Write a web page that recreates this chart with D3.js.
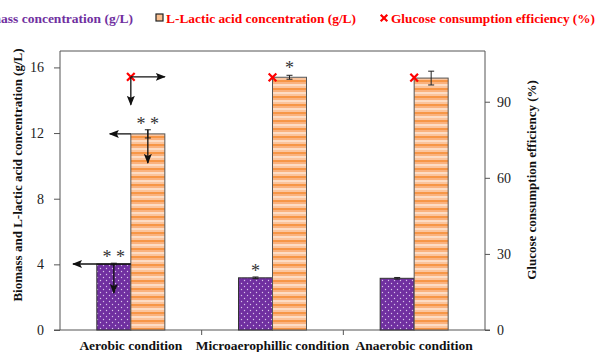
<!DOCTYPE html>
<html>
<head>
    <meta charset="utf-8">
    <style>
        body { margin: 0; background: white; }
        svg { display: block; }
        text { font-family: "Liberation Serif", "Times New Roman", serif; }
        .tick text { font-size: 14px; fill: #222; font-family: "Liberation Serif", serif; }
        .axis path, .axis line { stroke: #555; }
    </style>
    <script src="https://d3js.org/d3.v7.min.js"></script>
</head>
<body>
<script>
const categories = ["Aerobic condition", "Microaerophillic condition", "Anaerobic condition"];
const biomass = [4.02, 3.18, 3.15];
const biomassErr = [0.05, 0.05, 0.05];
const lactic = [11.95, 15.4, 15.35];
const lacticErr = [0.25, 0.12, 0.42];
const glucose = [99.8, 99.6, 99.5];
const leftTicks = [0, 4, 8, 12, 16];
const rightTicks = [0, 30, 60, 90];
const stars = ["* *", "*", ""];        // above biomass bars
const lacticStars = ["* *", "*", ""];  // above lactic bars

const width = 599, height = 352;
const m = {left: 60, right: 485, top: 51, bottom: 330};

const svg = d3.select("body").append("svg")
    .attr("width", width).attr("height", height);

const defs = svg.append("defs");

// purple with white dots
const dots = defs.append("pattern").attr("id", "dots")
    .attr("patternUnits", "userSpaceOnUse").attr("width", 6).attr("height", 6);
dots.append("rect").attr("width", 6).attr("height", 6).attr("fill", "#7030A0");
dots.append("circle").attr("cx", 1.5).attr("cy", 1.5).attr("r", 0.7).attr("fill", "#d9c3ea");
dots.append("circle").attr("cx", 4.5).attr("cy", 4.5).attr("r", 0.7).attr("fill", "#d9c3ea");

// orange horizontal stripes
const stripes = defs.append("pattern").attr("id", "stripes")
    .attr("patternUnits", "userSpaceOnUse").attr("width", 10).attr("height", 8);
[["#F79646", 0, 2], ["#FAB27E", 2, 2], ["#FDDCC4", 4, 2], ["#FBC49C", 6, 2]].forEach(s => {
    stripes.append("rect").attr("y", s[1]).attr("width", 10).attr("height", s[2]).attr("fill", s[0]);
});

defs.append("marker").attr("id", "arrow")
    .attr("viewBox", "0 0 10 10").attr("refX", 9).attr("refY", 5)
    .attr("markerWidth", 10).attr("markerHeight", 10).attr("markerUnits", "userSpaceOnUse")
    .attr("orient", "auto")
    .append("path").attr("d", "M0,1 L10,5 L0,9 L2,5 Z").attr("fill", "#111");

const x = d3.scaleBand().domain(categories).range([m.left, m.right]).padding(0);
const yL = d3.scaleLinear().domain([0, 17]).range([m.bottom, m.top]);
const yR = d3.scaleLinear().domain([0, 110]).range([m.bottom, m.top]);
const barW = 34;
const cx = d => x(d) + x.bandwidth() / 2;

// frame
svg.append("line").attr("x1", m.left).attr("x2", m.right).attr("y1", m.top).attr("y2", m.top)
    .attr("stroke", "#555");

// axes
const gl = svg.append("g").attr("class", "axis").attr("transform", `translate(${m.left},0)`)
    .call(d3.axisLeft(yL).tickValues(leftTicks).tickSize(6).tickSizeOuter(0));
gl.select(".domain").attr("d", `M0,${m.bottom}V${m.top}`);
gl.selectAll(".tick text").attr("x", -16);

const gr = svg.append("g").attr("class", "axis").attr("transform", `translate(${m.right},0)`)
    .call(d3.axisRight(yR).tickValues(rightTicks).tickSize(5).tickSizeOuter(0));
gr.select(".domain").attr("d", `M0,${m.bottom}V${m.top}`);
gr.selectAll(".tick text").attr("x", 12);

const gb = svg.append("g").attr("class", "axis").attr("transform", `translate(0,${m.bottom})`);
gb.append("line").attr("x1", m.left - 6).attr("x2", m.right + 5).attr("stroke", "#555");
gb.selectAll(".ct").data(categories.slice(1)).join("line")
    .attr("x1", d => x(d)).attr("x2", d => x(d)).attr("y1", 0).attr("y2", 5).attr("stroke", "#555");
gb.selectAll("text").data(categories).join("text")
    .attr("x", d => cx(d)).attr("y", 20).attr("text-anchor", "middle")
    .attr("font-size", 13.5).attr("font-weight", "bold").attr("fill", "#111").text(d => d);

// bars
svg.selectAll(".bio").data(categories).join("rect")
    .attr("x", d => cx(d) - barW).attr("width", barW)
    .attr("y", (d, i) => yL(biomass[i])).attr("height", (d, i) => m.bottom - yL(biomass[i]))
    .attr("fill", "url(#dots)").attr("stroke", "#333").attr("stroke-width", 1);
svg.selectAll(".lac").data(categories).join("rect")
    .attr("x", d => cx(d)).attr("width", barW)
    .attr("y", (d, i) => yL(lactic[i])).attr("height", (d, i) => m.bottom - yL(lactic[i]))
    .attr("fill", "url(#stripes)").attr("stroke", "#555").attr("stroke-width", 1);

// error bars
function errBar(xc, v, e) {
    const g = svg.append("g").attr("stroke", "#222").attr("stroke-width", 1);
    g.append("line").attr("x1", xc).attr("x2", xc).attr("y1", yL(v + e)).attr("y2", yL(v - e));
    [v + e, v - e].forEach(t => g.append("line").attr("x1", xc - 3).attr("x2", xc + 3)
        .attr("y1", yL(t)).attr("y2", yL(t)));
}
categories.forEach((c, i) => {
    errBar(cx(c) - barW / 2, biomass[i], biomassErr[i]);
    errBar(cx(c) + barW / 2, lactic[i], lacticErr[i]);
});

// glucose markers
svg.selectAll(".glu").data(categories).join("path")
    .attr("transform", (d, i) => `translate(${cx(d)},${yR(glucose[i])})`)
    .attr("d", d3.symbol(d3.symbolX, 40))
    .attr("stroke", "#ff0000").attr("stroke-width", 2.2).attr("fill", "none");

// significance stars (asterisk centre sits ~0.5em above baseline)
const starSize = 18;
categories.forEach((c, i) => {
    if (stars[i]) svg.append("text").attr("x", cx(c) - barW / 2)
        .attr("y", yL(biomass[i]) - 10 + starSize * 0.5)
        .attr("text-anchor", "middle").attr("font-size", starSize).attr("fill", "#333").text(stars[i]);
    if (lacticStars[i]) svg.append("text").attr("x", cx(c) + barW / 2)
        .attr("y", yL(lactic[i]) - 12.5 + starSize * 0.5)
        .attr("text-anchor", "middle").attr("font-size", starSize).attr("fill", "#333").text(lacticStars[i]);
});

// arrows (aerobic group)
function arrow(x1, y1, x2, y2) {
    svg.append("line").attr("x1", x1).attr("y1", y1).attr("x2", x2).attr("y2", y2)
        .attr("stroke", "#111").attr("stroke-width", 1.3).attr("marker-end", "url(#arrow)");
}
const a = categories[0];
arrow(cx(a), yR(glucose[0]), cx(a) + 34, yR(glucose[0]));
arrow(cx(a), yR(glucose[0]), cx(a), yR(glucose[0]) + 28);
arrow(cx(a), yL(lactic[0]), cx(a) - 21, yL(lactic[0]));
arrow(cx(a) + barW / 2, yL(lactic[0] + lacticErr[0]), cx(a) + barW / 2, yL(lactic[0]) + 29);
arrow(cx(a), yL(biomass[0]), m.left + 13, yL(biomass[0]));
arrow(cx(a) - barW / 2, yL(biomass[0]), cx(a) - barW / 2, yL(biomass[0]) + 29);

// axis titles
svg.append("text").attr("transform", `translate(22,175) rotate(-90)`)
    .attr("text-anchor", "middle").attr("font-size", 13).attr("font-weight", "bold").attr("fill", "#111")
    .text("Biomass and L-lactic acid concentration (g/L)");
svg.append("text").attr("transform", `translate(536,180) rotate(-90)`)
    .attr("text-anchor", "middle").attr("font-size", 13).attr("font-weight", "bold").attr("fill", "#111")
    .text("Glucose consumption efficiency (%)");

// legend
const ly = 23;
svg.append("text").attr("x", 133).attr("y", ly).attr("text-anchor", "end")
    .attr("font-size", 13.5).attr("font-weight", "bold").attr("fill", "#7030A0")
    .text("Biomass concentration (g/L)");
svg.append("rect").attr("x", 156).attr("y", ly - 9).attr("width", 7).attr("height", 7)
    .attr("fill", "#FAC090").attr("stroke", "#222").attr("stroke-width", 1.2);
svg.append("text").attr("x", 166).attr("y", ly)
    .attr("font-size", 13.5).attr("font-weight", "bold").attr("fill", "#ff0000")
    .attr("textLength", 190).attr("lengthAdjust", "spacingAndGlyphs")
    .text("L-Lactic acid concentration (g/L)");
svg.append("path").attr("transform", `translate(384,${ly - 5})`)
    .attr("d", d3.symbol(d3.symbolX, 30))
    .attr("stroke", "#ff0000").attr("stroke-width", 2.2).attr("fill", "none");
svg.append("text").attr("x", 391).attr("y", ly)
    .attr("font-size", 13.5).attr("font-weight", "bold").attr("fill", "#ff0000")
    .attr("textLength", 204).attr("lengthAdjust", "spacingAndGlyphs")
    .text("Glucose consumption efficiency (%)");
</script>
</body>
</html>
